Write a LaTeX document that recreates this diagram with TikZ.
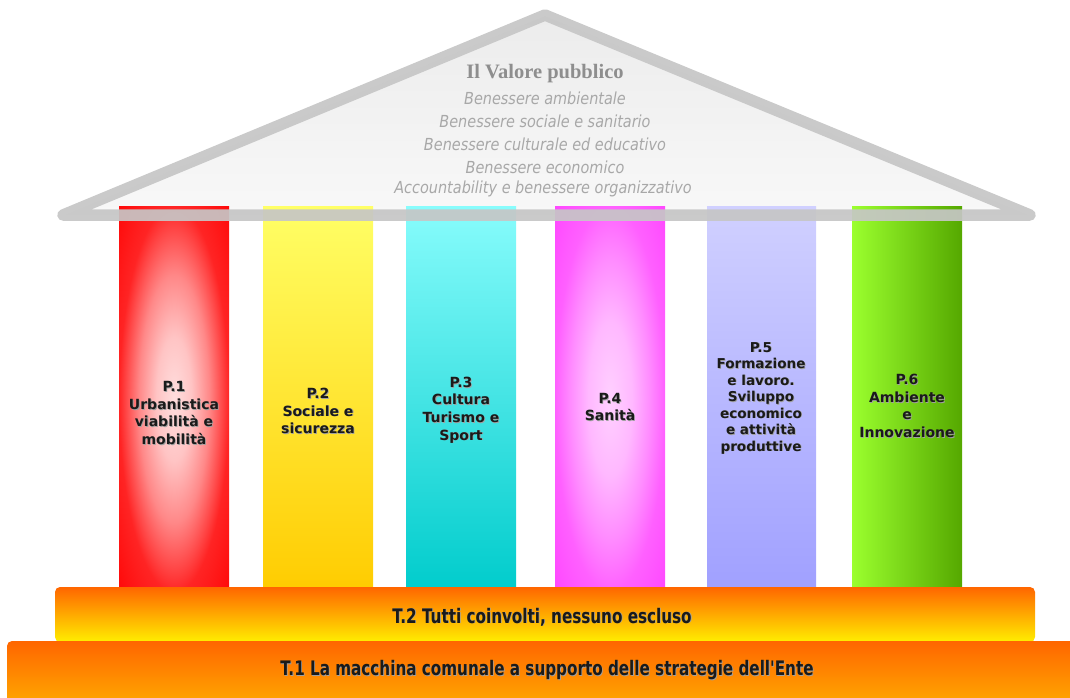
\documentclass[tikz,border=0pt]{standalone}
\usepackage{fontspec}
\usetikzlibrary{decorations.pathmorphing}
\newfontfamily\colfont{DejaVu Sans}
\newfontfamily\condfont[FakeStretch=0.76]{DejaVu Sans}
\newfontfamily\roofit[FakeStretch=0.87]{DejaVu Sans}
\newfontfamily\titlefont{Liberation Serif}
\definecolor{roofline}{HTML}{C6C6C6}
\definecolor{roofA}{HTML}{ECECEC}
\definecolor{roofB}{HTML}{F8F8F8}
\definecolor{titlegray}{HTML}{8E8E8E}
\definecolor{itgray}{HTML}{A8A8A8}
\definecolor{yelT}{HTML}{FFFF66}
\definecolor{yelB}{HTML}{FFCC00}
\definecolor{cyaT}{HTML}{88FCFC}
\definecolor{cyaB}{HTML}{00CCCC}
\definecolor{lavT}{HTML}{D0D0FF}
\definecolor{lavB}{HTML}{A0A0FF}
\definecolor{greL}{HTML}{9BFF2E}
\definecolor{greR}{HTML}{55A800}
\definecolor{orT}{HTML}{FF6600}
\definecolor{yeB}{HTML}{FFEE00}
\definecolor{orB}{HTML}{FFB000}
\definecolor{txtdark}{HTML}{1A1A1A}
\definecolor{txtshadow}{HTML}{A0A0A0}
\pgfdeclareradialshading{redcol}{\pgfpointorigin}{%
  color(0bp)=(rgb,255:red,255;green,222;blue,222);
  color(8bp)=(rgb,255:red,255;green,196;blue,196);
  color(16bp)=(rgb,255:red,255;green,136;blue,136);
  color(22bp)=(rgb,255:red,255;green,70;blue,70);
  color(25bp)=(rgb,255:red,255;green,36;blue,36);
  color(35bp)=(rgb,255:red,255;green,10;blue,10);
  color(50bp)=(rgb,255:red,255;green,0;blue,0)}
\pgfdeclareradialshading{magcol}{\pgfpointorigin}{%
  color(0bp)=(rgb,255:red,255;green,208;blue,255);
  color(10bp)=(rgb,255:red,255;green,184;blue,255);
  color(18bp)=(rgb,255:red,255;green,140;blue,255);
  color(25bp)=(rgb,255:red,255;green,96;blue,255);
  color(35bp)=(rgb,255:red,255;green,72;blue,255);
  color(50bp)=(rgb,255:red,255;green,64;blue,255)}
\newlength\accw
\newcommand{\collabel}[4]{%
  \node[coltext, text=txtshadow, #3] (#1sh) at ([xshift=0.8pt,yshift=-0.8pt]#2) {#4};
  \node[coltext, #3] (#1) at (#2) {#4};}
\begin{document}
\begin{tikzpicture}[x=1pt,y=-1pt,
  coltext/.style={align=center, inner sep=0pt, text=txtdark,
    font=\colfont\bfseries\fontsize{14}{17.6}\selectfont},
  basetext/.style={inner sep=0pt, font=\condfont\bfseries\fontsize{20}{22}\selectfont},
  rooftext/.style={inner sep=0pt, text=itgray, font=\roofit\itshape\fontsize{16.6}{18}\selectfont},
  basebox/.style={rounded corners=5pt}]
\useasboundingbox (0,0) rectangle (1070,697);
\settowidth{\accw}{\roofit\itshape\fontsize{16.6}{18}\selectfont Accountability}
% roof fill
\shade[top color=roofA, bottom color=roofB] (64,215) -- (545,16) -- (1029,215) -- cycle;
% columns
\shade[shading=redcol] (119,206) rectangle (229,592);
\shade[top color=yelT, bottom color=yelB] (263,206) rectangle (373,592);
\shade[top color=cyaT, bottom color=cyaB] (406,206) rectangle (516,592);
\shade[shading=magcol] (555,206) rectangle (665,592);
\shade[top color=lavT, bottom color=lavB] (707,206) rectangle (816,592);
\shade[left color=greL, right color=greR] (852,206) rectangle (962,592);
% roof outline
\draw[line width=11.5pt, roofline, line join=round, line cap=round, draw opacity=0.92]
  (63,215) -- (545,15) -- (1030,215) -- cycle;
% roof texts
\node[inner sep=0pt, text=titlegray, font=\titlefont\bfseries\fontsize{20.5}{22}\selectfont] (title) at (545,74) {Il Valore pubblico};
\node[rooftext] (r1) at (545,98) {Benessere ambientale};
\node[rooftext] (r2) at (545,121) {Benessere sociale e sanitario};
\node[rooftext] (r3) at (545,144) {Benessere culturale ed educativo};
\node[rooftext] (r4) at (545,167) {Benessere economico};
\node[rooftext] (r5) at (543,189) {Accountability e benessere organizzativo};
\draw[decorate, decoration={snake, amplitude=0.7pt, segment length=3pt}, itgray, line width=0.5pt]
  ([yshift=-3.5pt]r5.base west) -- ++(\accw,0pt);
% column labels
\collabel{p1}{174,413}{}{P.1\\Urbanistica\\viabilità e\\mobilità}
\collabel{p2}{318,411}{}{P.2\\Sociale e\\sicurezza}
\collabel{p3}{461,410}{}{P.3\\Cultura\\Turismo e\\Sport}
\collabel{p4}{610,407}{}{P.4\\Sanità}
\collabel{p5}{761,398}{font=\colfont\bfseries\fontsize{13.6}{16.5}\selectfont}{P.5\\Formazione\\e lavoro.\\Sviluppo\\economico\\e attività\\produttive}
\collabel{p6}{907,406}{}{P.6\\Ambiente\\e\\Innovazione}
% bases
\shade[basebox, top color=orT, bottom color=yeB] (55,587) rectangle (1035,642);
\shade[basebox, top color=orT, bottom color=orB] (7,641) rectangle (1085,712);
\node[basetext, text=txtshadow] (t2sh) at (542.8,617.8) {T.2 Tutti coinvolti, nessuno escluso};
\node[basetext, text=txtdark] (t2) at (542,617) {T.2 Tutti coinvolti, nessuno escluso};
\node[basetext, text=txtshadow] (t1sh) at (547.8,670.8) {T.1 La macchina comunale a supporto delle strategie dell'Ente};
\node[basetext, text=txtdark] (t1) at (547,670) {T.1 La macchina comunale a supporto delle strategie dell'Ente};
\end{tikzpicture}
\end{document}
